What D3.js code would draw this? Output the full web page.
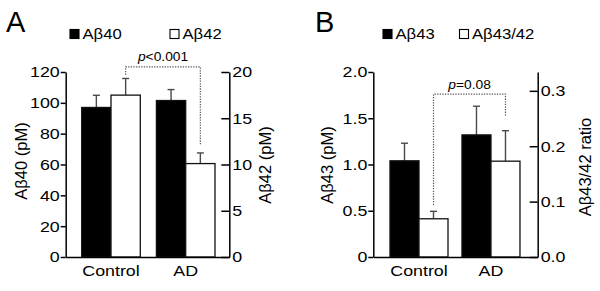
<!DOCTYPE html>
<html>
<head>
<meta charset="utf-8">
<script src="https://cdn.jsdelivr.net/npm/d3@7"></script>
<style>
    body { margin: 0; background: #fff; }
    svg text { font-family: "Liberation Sans", Arial, Helvetica, sans-serif; fill: #000; }
    /* the figure's text is a bit wider than tall, so stretch horizontal labels */
    .hs { transform-box: fill-box; transform: scaleX(1.15); }
    .hs-start { transform-origin: 0% 50%; }
    .hs-mid { transform-origin: 50% 50%; }
    .hs-end { transform-origin: 100% 50%; }
</style>
</head>
<body>
<div id="chart"></div>
<script>

// values
const groups = ["Control", "AD"];

const ab40 = [97, 101.5];
const ab40Err = [7.9, 7.1];
const ab42 = [17.5, 10.1];
const ab42Err = [1.8, 1.15];

const ab43 = [1.04, 1.32];
const ab43Err = [0.19, 0.31];
const ratio4342 = [0.069, 0.173];
const ratio4342Err = [0.0135, 0.055];

const ticksA40 = [0, 20, 40, 60, 80, 100, 120];
const labelsA40 = ["0", "20", "40", "60", "80", "100", "120"];
const ticksA42 = [0, 5, 10, 15, 20];
const labelsA42 = ["0", "5", "10", "15", "20"];
const ticksB43 = [0, 0.5, 1, 1.5, 2];
const labelsB43 = ["0", "0.5", "1.0", "1.5", "2.0"];
const ticksRatio = [0, 0.1, 0.2, 0.3];
const labelsRatio = ["0.0", "0.1", "0.2", "0.3"];

// significance brackets, in units of the right-hand axis: [top, left leg end, right leg end]
const bracketA = [20.55, 19.7, 12.1];
const bracketB = [0.294, 0.094, 0.2535];


class BarPanel {

    constructor(svg, cfg) {
        this.svg = svg;
        Object.assign(this, cfg);
        this.initVis();
    }

    initVis() {
        let vis = this;

        vis.g = vis.svg.append("g").attr("class", "panel");

        // scales
        vis.yLeft = d3.scaleLinear().domain(vis.leftDomain).range([vis.bottom, vis.top]);
        vis.yRight = d3.scaleLinear().domain(vis.rightDomain).range([vis.bottom, vis.top]);

        vis.x = d3.scaleBand()
            .domain(groups)
            .range([vis.left, vis.right])
            .paddingInner(0)
            .paddingOuter(vis.outerPad)
            .align(vis.align);

        vis.xSub = d3.scaleBand()
            .domain([0, 1])
            .range([0, vis.x.bandwidth()])
            .paddingInner(0)
            .paddingOuter(vis.subPad);

        // one row per bar, black = left axis series, white = right axis series
        vis.rows = [];
        groups.forEach((grp, i) => {
            vis.rows.push({grp: grp, s: 0, v: vis.leftVals[i], e: vis.leftErr[i], y: vis.yLeft});
            vis.rows.push({grp: grp, s: 1, v: vis.rightVals[i], e: vis.rightErr[i], y: vis.yRight});
        });

        let bw = vis.xSub.bandwidth();
        let cx = d => vis.x(d.grp) + vis.xSub(d.s) + bw / 2;

        // error bars (upper only)
        let err = vis.g.selectAll(".err")
            .data(vis.rows)
            .enter().append("g")
            .attr("class", "err")
            .attr("stroke", "#4a4a4a")
            .attr("stroke-width", 1.4);

        err.append("line")
            .attr("x1", cx).attr("x2", cx)
            .attr("y1", d => d.y(d.v))
            .attr("y2", d => d.y(d.v + d.e));

        err.append("line")
            .attr("x1", d => cx(d) - 3.5).attr("x2", d => cx(d) + 3.5)
            .attr("y1", d => d.y(d.v + d.e))
            .attr("y2", d => d.y(d.v + d.e));

        // bars
        vis.g.selectAll(".bar")
            .data(vis.rows)
            .enter().append("rect")
            .attr("class", "bar")
            .attr("x", d => vis.x(d.grp) + vis.xSub(d.s))
            .attr("width", bw)
            .attr("y", d => d.y(d.v))
            .attr("height", d => vis.bottom - d.y(d.v))
            .attr("fill", d => d.s === 0 ? "#000" : "#fff")
            .attr("stroke", "#111")
            .attr("stroke-width", 1.3);

        // dotted significance bracket between the two white bars
        let xl = vis.x(groups[0]) + vis.xSub(1) + bw / 2;
        let xr = vis.x(groups[1]) + vis.xSub(1) + bw / 2;
        let yTop = vis.yRight(vis.bracket[0]);
        vis.g.append("path")
            .attr("d", `M${xl},${vis.yRight(vis.bracket[1])}V${yTop}H${xr}V${vis.yRight(vis.bracket[2])}`)
            .attr("fill", "none")
            .attr("stroke", "#555")
            .attr("stroke-width", 1.2)
            .attr("stroke-dasharray", "1.3,1.3");

        let pText = vis.g.append("text")
            .attr("class", "hs hs-mid")
            .attr("x", (xl + xr) / 2)
            .attr("y", yTop - 5.5)
            .attr("text-anchor", "middle")
            .attr("font-size", 12);
        pText.append("tspan").attr("font-style", "italic").text("p");
        pText.append("tspan").text(vis.pLabel);

        // axes
        let styleAxis = (sel, cls) => {
            sel.attr("font-size", 15.5)
                .attr("font-family", null);
            sel.selectAll("path, line").attr("stroke", "#000").attr("stroke-width", 1.5);
            sel.selectAll("text").attr("class", "hs " + cls).attr("fill", "#000");
        };

        vis.g.append("g")
            .attr("transform", `translate(${vis.left},0)`)
            .call(d3.axisLeft(vis.yLeft)
                .tickValues(vis.leftTicks)
                .tickFormat((d, i) => vis.leftLabels[i])
                .tickSizeInner(5).tickSizeOuter(0).tickPadding(1))
            .call(sel => styleAxis(sel, "hs-end"));

        vis.g.append("g")
            .attr("transform", `translate(${vis.right},0)`)
            .call(d3.axisRight(vis.yRight)
                .tickValues(vis.rightTicks)
                .tickFormat((d, i) => vis.rightLabels[i])
                .tickSizeInner(-8).tickSizeOuter(0).tickPadding(3))
            .call(sel => styleAxis(sel, "hs-start"));

        vis.g.append("g")
            .attr("transform", `translate(0,${vis.bottom})`)
            .call(d3.axisBottom(vis.x).tickSize(0).tickPadding(8))
            .call(sel => styleAxis(sel, "hs-mid"));

        // axis titles, rotated
        vis.g.append("text")
            .attr("transform", `translate(${vis.leftTitleX},${vis.leftTitleY}) rotate(-90)`)
            .attr("text-anchor", "middle")
            .attr("font-size", 16.5)
            .text(vis.leftTitle);

        vis.g.append("text")
            .attr("transform", `translate(${vis.rightTitleX},${vis.rightTitleY}) rotate(-90)`)
            .attr("text-anchor", "middle")
            .attr("font-size", 16.5)
            .text(vis.rightTitle);

        // legend
        let leg = vis.g.selectAll(".leg")
            .data(vis.legendNames)
            .enter().append("g")
            .attr("class", "leg")
            .attr("transform", (d, i) => `translate(${vis.legendX[i]},29.5)`);

        leg.append("rect")
            .attr("width", 9).attr("height", 9)
            .attr("fill", (d, i) => i === 0 ? "#000" : "#fff")
            .attr("stroke", "#000")
            .attr("stroke-width", 1.1);

        leg.append("text")
            .attr("class", "hs hs-start")
            .attr("x", 12.5)
            .attr("y", 9.2)
            .attr("font-size", 14.5)
            .text(d => d);

        // panel letter
        vis.g.append("text")
            .attr("x", vis.letterX)
            .attr("y", 32)
            .attr("font-size", 29)
            .text(vis.letter);
    }
}


let svg = d3.select("#chart").append("svg")
    .attr("width", 600)
    .attr("height", 291);

new BarPanel(svg, {
    letter: "A", letterX: 6,
    left: 65.7, right: 229.3, top: 72, bottom: 257,
    outerPad: 0.095, align: 0.56, subPad: 0.275,
    leftDomain: [0, 120], rightDomain: [0, 20],
    leftVals: ab40, leftErr: ab40Err, rightVals: ab42, rightErr: ab42Err,
    leftTicks: ticksA40, leftLabels: labelsA40,
    rightTicks: ticksA42, rightLabels: labelsA42,
    leftTitle: "Aβ40 (pM)", leftTitleX: 27, leftTitleY: 161,
    rightTitle: "Aβ42 (pM)", rightTitleX: 271, rightTitleY: 165,
    legendNames: ["Aβ40", "Aβ42"], legendX: [70, 170],
    bracket: bracketA, pLabel: "<0.001"
});

new BarPanel(svg, {
    letter: "B", letterX: 315,
    left: 373.3, right: 537.7, top: 72, bottom: 257,
    outerPad: 0.142, align: 0.475, subPad: 0.241,
    leftDomain: [0, 2], rightDomain: [0, 0.334],
    leftVals: ab43, leftErr: ab43Err, rightVals: ratio4342, rightErr: ratio4342Err,
    leftTicks: ticksB43, leftLabels: labelsB43,
    rightTicks: ticksRatio, rightLabels: labelsRatio,
    leftTitle: "Aβ43 (pM)", leftTitleX: 333, leftTitleY: 165,
    rightTitle: "Aβ43/42 ratio", rightTitleX: 591, rightTitleY: 167,
    legendNames: ["Aβ43", "Aβ43/42"], legendX: [383, 459.5],
    bracket: bracketB, pLabel: "=0.08"
});

</script>
</body>
</html>
